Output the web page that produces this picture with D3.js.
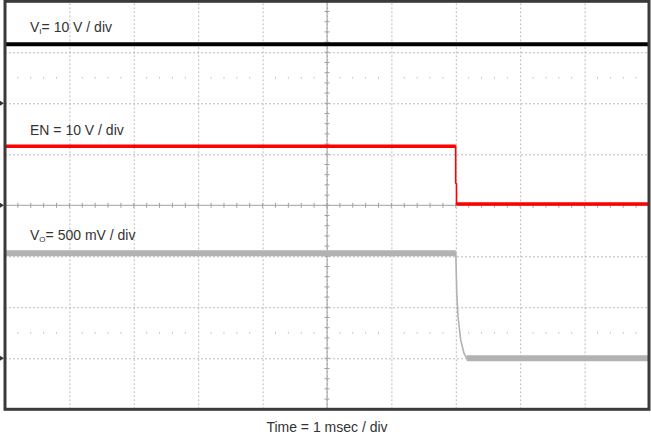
<!DOCTYPE html>
<html>
<head>
<meta charset="utf-8">
<script src="https://cdn.jsdelivr.net/npm/d3@7"></script>
<style>
  body { margin: 0; background: #fff; }
  svg text { font-family: "Liberation Sans", Arial, sans-serif; fill: #333; }
</style>
</head>
<body>
<div id="graph"></div>
<script>
// time in ms (1 msec / div, 10 divisions)
var viTime = [0, 10];
var viVolts = [11.6, 11.6];

var enTime = [0, 6.998, 6.998, 7.011, 7.011, 10];
var enVolts = [11.57, 11.57, 4.4, 4.2, 0.25, 0.25];

var voTime = [0, 7.0, 7.015, 7.034, 7.076, 7.127, 7.17, 10];
var voVolts = [1.03, 1.03, 0.64, 0.41, 0.18, 0.05, 0.0, 0.0];

// channel settings: ground position in divisions from center, volts per div
var channels = [
    { sub: "I", rest: "= 10 V / div", time: viTime, volts: viVolts, ground: 2, perDiv: 10, color: "#000", band: 4, labelY: 32 },
    { sub: null, rest: "EN = 10 V / div", time: enTime, volts: enVolts, ground: 0, perDiv: 10, color: "#f00", band: 3.5, labelY: 135 },
    { sub: "O", rest: "= 500 mV / div", time: voTime, volts: voVolts, ground: -3, perDiv: 0.5, color: "#b2b2b2", band: 6, labelY: 240 }
];

var plotLeft = 5, plotTop = 1.3, plotW = 644, plotH = 408;

var svg = d3.select("#graph").append("svg")
    .attr("width", 651)
    .attr("height", 434);

var x = d3.scaleLinear().domain([0, 10]).range([plotLeft, plotLeft + plotW]);
var y = d3.scaleLinear().domain([-4, 4]).range([plotTop + plotH, plotTop]);

// dotted grid
svg.append("g")
    .attr("transform", "translate(0," + (plotTop + plotH) + ")")
    .call(d3.axisBottom(x).tickValues(d3.range(1, 10)).tickSize(-plotH).tickFormat(""))
    .call(function (g) {
        g.select(".domain").remove();
        g.selectAll("line").attr("stroke", "#bbb").attr("stroke-dasharray", "2,2");
    });
svg.append("g")
    .attr("transform", "translate(" + plotLeft + ",0)")
    .call(d3.axisLeft(y).tickValues([-3, -2, -1, 1, 2, 3]).tickSize(-plotW).tickFormat(""))
    .call(function (g) {
        g.select(".domain").remove();
        g.selectAll("line").attr("stroke", "#bbb").attr("stroke-dasharray", "2,2");
    });

// minor dot rows at +/- 2.5 div
var dotX = d3.range(0, 10.001, 0.2).filter(function (t) { return Math.abs(t - Math.round(t)) > 0.01; });
[2.5, -2.5].forEach(function (row) {
    svg.append("g").selectAll("line")
        .data(dotX)
        .join("line")
        .attr("x1", function (d) { return x(d); })
        .attr("x2", function (d) { return x(d); })
        .attr("y1", y(row) - 1)
        .attr("y2", y(row) + 1)
        .attr("stroke", "#c8c8c8");
});

// center axes with minor ticks
svg.append("line")
    .attr("x1", x(0)).attr("x2", x(10))
    .attr("y1", y(0)).attr("y2", y(0))
    .attr("stroke", "#a0a0a0");
svg.append("line")
    .attr("x1", x(5)).attr("x2", x(5))
    .attr("y1", y(-4)).attr("y2", y(4))
    .attr("stroke", "#a0a0a0");
svg.append("g").selectAll("line")
    .data(d3.range(0.2, 10, 0.2))
    .join("line")
    .attr("x1", function (d) { return x(d); })
    .attr("x2", function (d) { return x(d); })
    .attr("y1", y(0) - 2.5)
    .attr("y2", y(0) + 2.5)
    .attr("stroke", "#a0a0a0");
svg.append("g").selectAll("line")
    .data(d3.range(-3.8, 4, 0.2))
    .join("line")
    .attr("x1", x(5) - 2.5)
    .attr("x2", x(5) + 2.5)
    .attr("y1", function (d) { return y(d); })
    .attr("y2", function (d) { return y(d); })
    .attr("stroke", "#a0a0a0");

// traces: thin line through all points, thick band on the flat (noisy) levels
channels.forEach(function (ch) {
    var pts = ch.time.map(function (t, i) { return [t, ch.volts[i]]; });
    var line = d3.line()
        .x(function (d) { return x(d[0]); })
        .y(function (d) { return y(ch.ground + d[1] / ch.perDiv); });
    svg.append("path")
        .datum(pts)
        .attr("d", line)
        .attr("fill", "none")
        .attr("stroke", ch.color)
        .attr("stroke-width", 1.6);
    for (var i = 1; i < pts.length; i++) {
        if (pts[i][1] === pts[i - 1][1] && pts[i][0] - pts[i - 1][0] > 0.1) {
            svg.append("path")
                .datum([pts[i - 1], pts[i]])
                .attr("d", line)
                .attr("fill", "none")
                .attr("stroke", ch.color)
                .attr("stroke-width", ch.band);
        }
    }
});

// ground markers on the left
channels.forEach(function (ch) {
    var gy = y(ch.ground);
    svg.append("path")
        .attr("d", "M0," + (gy - 2.5) + "L4," + gy + "L0," + (gy + 2.5) + "Z")
        .attr("fill", "#333");
});

// frame
svg.append("rect")
    .attr("x", plotLeft)
    .attr("y", plotTop)
    .attr("width", plotW)
    .attr("height", plotH)
    .attr("fill", "none")
    .attr("stroke", "#3a3a3a")
    .attr("stroke-width", 3);

// channel labels
channels.forEach(function (ch) {
    var t = svg.append("text")
        .attr("x", 30)
        .attr("y", ch.labelY)
        .style("font-size", "14px");
    if (ch.sub) {
        t.append("tspan").text("V");
        t.append("tspan").text(ch.sub).style("font-size", "8px").attr("dy", 2);
        t.append("tspan").text(ch.rest).attr("dy", -2);
    } else {
        t.text(ch.rest);
    }
});

svg.append("text")
    .attr("x", x(5))
    .attr("y", 432)
    .attr("text-anchor", "middle")
    .style("font-size", "14px")
    .text("Time = 1 msec / div");
</script>
</body>
</html>
